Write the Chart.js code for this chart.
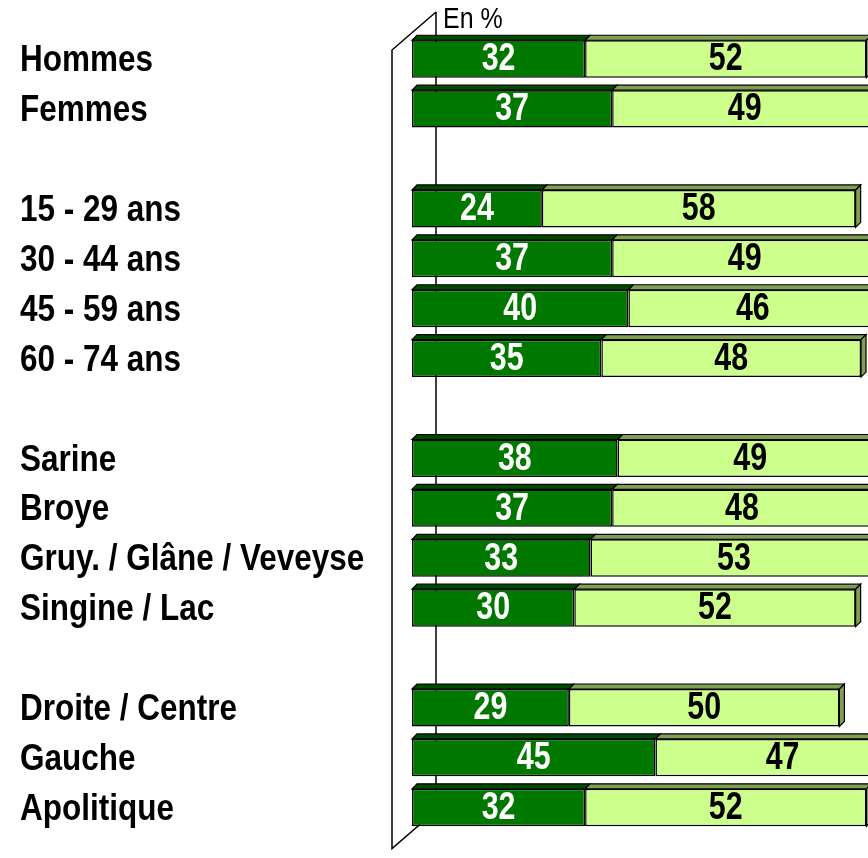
<!DOCTYPE html>
<html>
<head>
<meta charset="utf-8">
<script src="https://cdn.jsdelivr.net/npm/chart.js@4"></script>
<style>
  html, body { margin: 0; padding: 0; background: #fff; overflow: hidden; }
  #wrap { width: 960px; height: 858px; }
</style>
</head>
<body>
<div id="wrap"><canvas id="myChart"></canvas></div>
<script>
var labels = ['Hommes', 'Femmes', '', '15 - 29 ans', '30 - 44 ans', '45 - 59 ans', '60 - 74 ans', '',
  'Sarine', 'Broye', 'Gruy. / Glâne / Veveyse', 'Singine / Lac', '', 'Droite / Centre', 'Gauche', 'Apolitique'];
var darkValues = [32, 37, null, 24, 37, 40, 35, null, 38, 37, 33, 30, null, 29, 45, 32];
var lightValues = [52, 49, null, 58, 49, 46, 48, null, 49, 48, 53, 52, null, 50, 47, 52];

var sans = "'Liberation Sans', Arial, sans-serif";
var depth = 5;

// no narrow font installed: squeeze the text horizontally instead
var narrowText = {
  id: 'narrowText',
  afterLayout: function(chart) {
    var s = chart.scales.y;
    if (s._narrow) return;
    s._narrow = true;
    s._computeLabelArea = function() { return undefined; };
    var orig = s.drawLabels;
    s.drawLabels = function(area) {
      var c = this.ctx;
      c.save();
      c.translate(this.left, 2);
      c.scale(0.84, 1);
      c.translate(-this.left, 0);
      orig.call(this, area);
      c.restore();
    };
  }
};

// 3D faces and the wall behind the bars
var backdrop = {
  id: 'backdrop',
  beforeDatasetsDraw: function(chart) {
    var ctx = chart.ctx, a = chart.chartArea;
    ctx.save();
    ctx.strokeStyle = '#000';
    ctx.lineWidth = 1.5;
    ctx.beginPath();
    ctx.moveTo(a.left + 24, a.top - 22);
    ctx.lineTo(a.left + 24, a.bottom - 22);
    ctx.lineTo(a.left - 20, a.bottom + 16);
    ctx.lineTo(a.left - 20, a.top + 16);
    ctx.lineTo(a.left + 24, a.top - 22);
    ctx.stroke();

    var tops = ['#004a00', '#7f9f55'];
    chart.data.datasets.forEach(function(ds, di) {
      var meta = chart.getDatasetMeta(di);
      meta.data.forEach(function(bar, i) {
        if (ds.data[i] == null) return;
        var p = bar.getProps(['x', 'y', 'base', 'height'], true);
        var top = p.y - p.height / 2, bottom = p.y + p.height / 2;
        ctx.fillStyle = tops[di];
        ctx.lineWidth = 1.2;
        ctx.beginPath();
        ctx.moveTo(p.base, top);
        ctx.lineTo(p.base + depth, top - depth);
        ctx.lineTo(p.x + depth, top - depth);
        ctx.lineTo(p.x, top);
        ctx.closePath();
        ctx.fill();
        ctx.stroke();
        if (di === chart.data.datasets.length - 1) {
          ctx.beginPath();
          ctx.moveTo(p.x, top);
          ctx.lineTo(p.x + depth, top - depth);
          ctx.lineTo(p.x + depth, bottom - depth);
          ctx.lineTo(p.x, bottom);
          ctx.closePath();
          ctx.fill();
          ctx.stroke();
        }
      });
    });
    ctx.restore();
  },
  afterDatasetsDraw: function(chart) {
    var ctx = chart.ctx, a = chart.chartArea;
    ctx.save();
    ctx.font = 'bold 38px ' + sans;
    ctx.textAlign = 'center';
    ctx.textBaseline = 'middle';
    var colors = ['#fff', '#000'];
    chart.data.datasets.forEach(function(ds, di) {
      chart.getDatasetMeta(di).data.forEach(function(bar, i) {
        if (ds.data[i] == null) return;
        var p = bar.getProps(['x', 'y', 'base'], true);
        ctx.save();
        ctx.translate((p.x + p.base) / 2, p.y + 1);
        ctx.scale(0.8, 1);
        ctx.fillStyle = colors[di];
        ctx.fillText(String(ds.data[i]), 0, 0);
        ctx.restore();
      });
    });
    ctx.font = '29px ' + sans;
    ctx.fillStyle = '#000';
    ctx.textAlign = 'left';
    ctx.textBaseline = 'alphabetic';
    ctx.translate(a.left + 31, 28);
    ctx.scale(0.86, 1);
    ctx.fillText('En %', 0, 0);
    ctx.restore();
  }
};

var ctx = document.getElementById('myChart').getContext('2d');
var chart = new Chart(ctx, {
  type: 'bar',
  data: {
    labels: labels,
    datasets: [{
      data: darkValues,
      backgroundColor: '#007800',
      borderColor: '#000',
      borderWidth: 1.5,
      borderSkipped: false
    }, {
      data: lightValues,
      backgroundColor: '#ccff8c',
      borderColor: '#000',
      borderWidth: 1.5,
      borderSkipped: false
    }]
  },
  options: {
    indexAxis: 'y',
    responsive: true,
    maintainAspectRatio: false,
    animation: false,
    layout: { padding: { left: 20, top: 34, bottom: 18, right: 7 } },
    datasets: { bar: { categoryPercentage: 1, barPercentage: 0.75 } },
    plugins: { legend: { display: false }, tooltip: { enabled: false } },
    scales: {
      x: { stacked: true, min: 0, max: 100, display: false },
      y: {
        stacked: true,
        grid: { display: false },
        border: { display: false },
        afterFit: function(scale) { scale.width = 392; },
        ticks: {
          crossAlign: 'far',
          color: '#000',
          autoSkip: false,
          font: { family: sans, size: 37.5, weight: 'bold' }
        }
      }
    }
  },
  plugins: [narrowText, backdrop]
});
</script>
</body>
</html>
